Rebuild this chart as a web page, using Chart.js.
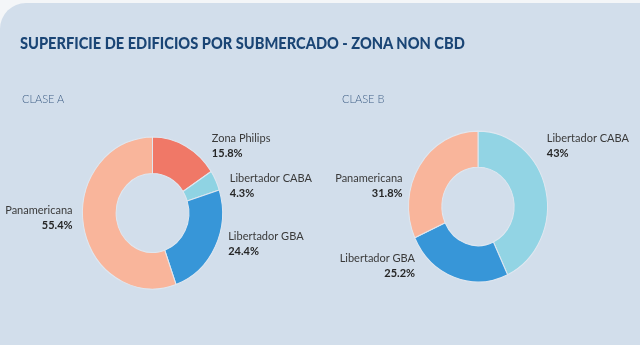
<!DOCTYPE html>
<html>
<head>
<meta charset="utf-8">
<script src="https://cdn.jsdelivr.net/npm/chart.js@4.4.1/dist/chart.umd.min.js"></script>
<style>
  html, body { margin: 0; padding: 0; background: #f4f6f8; }
  #page { position: relative; width: 640px; height: 345px; overflow: hidden; }
  #panel { position: absolute; left: 0; top: 3px; width: 640px; height: 342px;
           background: #d2deeb; border-top-left-radius: 26px; }
  #titulo { position: absolute; left: 20px; top: 32px; font: 900 17px Lato, sans-serif;
            color: #1a4575; white-space: nowrap; transform: scaleX(0.86); transform-origin: left top; }
  .clase { position: absolute; top: 92px; font: 300 11px Lato, sans-serif; color: #3f5f86; }
  .box { position: absolute; top: 0; width: 320px; height: 345px; }
</style>
</head>
<body>
<div id="page">
  <div id="panel"></div>
  <div class="box" style="left:0"><canvas id="clase-a"></canvas></div>
  <div class="box" style="left:320px"><canvas id="clase-b"></canvas></div>
  <div id="titulo">SUPERFICIE DE EDIFICIOS POR SUBMERCADO - ZONA NON CBD</div>
  <div class="clase" style="left:22px">CLASE A</div>
  <div class="clase" style="left:342px">CLASE B</div>
</div>
<script>
// datos (porcentaje de superficie)
const submercadosA = ["Zona Philips", "Libertador CABA", "Libertador GBA", "Panamericana"];
const valoresA = [15.8, 4.3, 24.4, 55.4];
const coloresA = ["#f07867", "#8fd3e3", "#3796d8", "#f9b59b"];

const submercadosB = ["Libertador CABA", "Libertador GBA", "Panamericana"];
const valoresB = [43, 25.2, 31.8];
const coloresB = ["#92d4e4", "#3796d8", "#f9b59b"];

const ESTIRAR = 1.085; // la dona del original es un poco mas alta que ancha

// estira la dona en vertical
const estirar = {
  id: "estirar",
  beforeDatasetsDraw(chart) {
    const arc = chart.getDatasetMeta(0).data[0];
    const ctx = chart.ctx;
    ctx.save();
    ctx.translate(arc.x, arc.y);
    ctx.scale(1, ESTIRAR);
    ctx.translate(-arc.x, -arc.y);
  },
  afterDatasetsDraw(chart) {
    chart.ctx.restore();
  }
};

// etiquetas con nombre y porcentaje al lado de cada porcion
const etiquetas = {
  id: "etiquetas",
  afterDraw(chart, args, opts) {
    const ctx = chart.ctx;
    const labels = chart.data.labels;
    const data = chart.data.datasets[0].data;
    chart.getDatasetMeta(0).data.forEach((arc, i) => {
      const p = arc.getProps(["x", "y", "startAngle", "endAngle", "outerRadius"], true);
      const mid = (p.startAngle + p.endAngle) / 2;
      const ax = p.x + Math.cos(mid) * p.outerRadius + opts.offsets[i][0];
      const ay = p.y + Math.sin(mid) * p.outerRadius * ESTIRAR + opts.offsets[i][1];
      ctx.save();
      ctx.textAlign = Math.cos(mid) >= 0 ? "left" : "right";
      ctx.textBaseline = "middle";
      ctx.fillStyle = "#3a3a3a";
      ctx.font = "11px Lato, sans-serif";
      ctx.fillText(labels[i], ax, ay - 7.5);
      ctx.fillStyle = "#262626";
      ctx.font = "bold 11px Lato, sans-serif";
      ctx.fillText(data[i] + "%", ax, ay + 7.5);
      ctx.restore();
    });
  }
};

function dona(id, labels, values, colors, padding, offsets) {
  return new Chart(document.querySelector(id), {
    type: "doughnut",
    data: {
      labels: labels,
      datasets: [{
        data: values,
        backgroundColor: colors,
        borderColor: "#dfe7f0",
        borderWidth: 1
      }]
    },
    options: {
      responsive: true,
      maintainAspectRatio: false,
      animation: false,
      cutout: "52%",
      layout: { padding: padding },
      plugins: {
        legend: { display: false },
        tooltip: { enabled: false },
        etiquetas: { offsets: offsets }
      }
    },
    plugins: [estirar, etiquetas]
  });
}

const donaA = dona("#clase-a", submercadosA, valoresA, coloresA,
  { left: 82, right: 97, top: 142.5, bottom: 61.5 },
  [[26, 0], [14, 5], [13, -2.5], [-11, -8.5]]);

const donaB = dona("#clase-b", submercadosB, valoresB, coloresB,
  { left: 88, right: 92, top: 136.5, bottom: 68.5 },
  [[1, -44], [-39, -11], [-17, 20]]);
</script>
</body>
</html>
